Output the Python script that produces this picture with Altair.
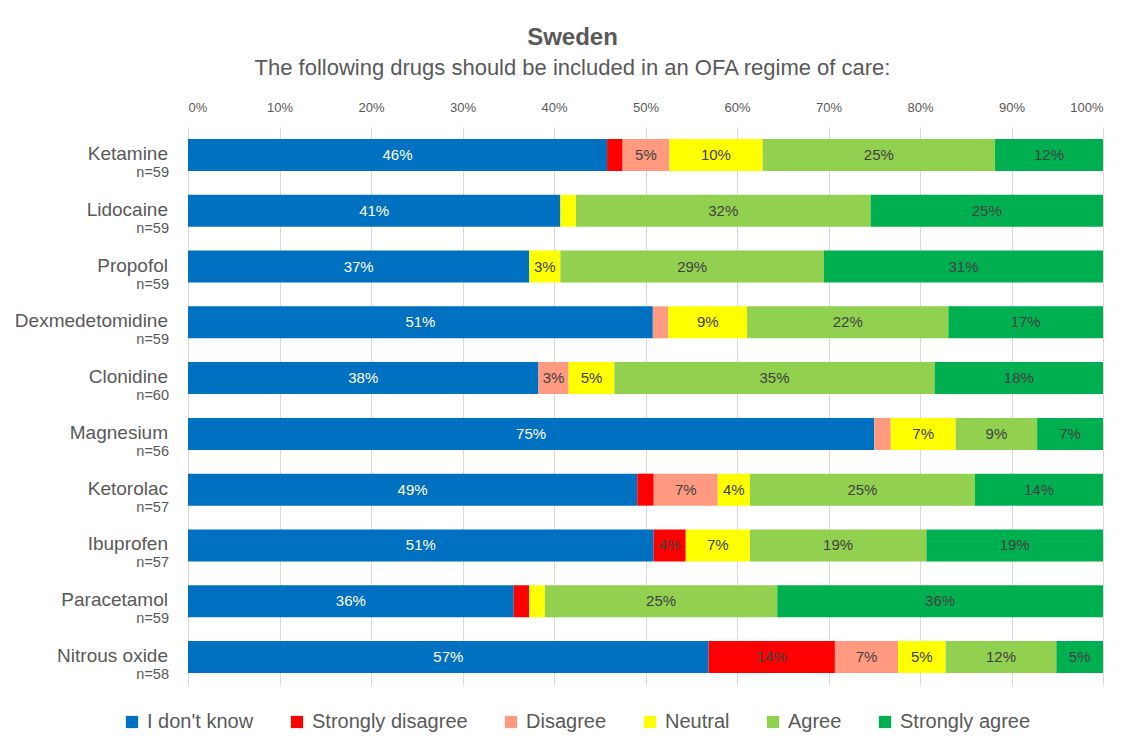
import math
import altair as alt
import pandas as pd

drugs = ["Ketamine", "Lidocaine", "Propofol", "Dexmedetomidine", "Clonidine",
         "Magnesium", "Ketorolac", "Ibuprofen", "Paracetamol", "Nitrous oxide"]
n_resp = [59, 59, 59, 59, 60, 56, 57, 57, 59, 58]
categories = ["I don't know", "Strongly disagree", "Disagree", "Neutral", "Agree", "Strongly agree"]
colors = ["#0070C0", "#FF0000", "#FF9980", "#FFFF00", "#92D050", "#00B050"]

dont_know = [45.8, 40.7, 37.3, 50.8, 38.3, 75.0, 49.1, 50.89, 35.6, 56.9]
strongly_disagree = [1.7, 0, 0, 0, 0, 0, 1.8, 3.51, 1.7, 13.8]
disagree = [5.1, 0, 0, 1.7, 3.3, 1.8, 7.0, 0, 0, 6.9]
neutral = [10.2, 1.7, 3.4, 8.6, 5.0, 7.1, 3.51, 7.0, 1.7, 5.2]
agree = [25.4, 32.2, 28.8, 22.0, 35.0, 8.9, 24.6, 19.3, 25.4, 12.1]
strongly_agree = [11.8, 25.4, 30.5, 16.9, 18.4, 7.2, 13.99, 19.3, 35.6, 5.1]

series = [dont_know, strongly_disagree, disagree, neutral, agree, strongly_agree]

rows = []
for i, d in enumerate(drugs):
    cum = 0.0
    for k, cat in enumerate(categories):
        p = series[k][i]
        rows.append({"drug": d, "cat": cat, "ord": k, "pct": p,
                     "x0": cum / 100, "x1": (cum + p) / 100, "mid": (cum + p / 2) / 100,
                     "label": f"{math.floor(p + 0.5)}%"})
        cum += p
df = pd.DataFrame(rows)
df = df[df["pct"] > 0]

lab_df = pd.DataFrame({"drug": drugs, "nlab": [f"n={n}" for n in n_resp]})

FONT = "Liberation Sans, Arial, sans-serif"
GREY = "#595959"

yenc = alt.Y("drug:N", sort=drugs, axis=None,
             scale=alt.Scale(paddingInner=0.4265, paddingOuter=0.215))

bars = alt.Chart(df).mark_bar().encode(
    x=alt.X("x0:Q", scale=alt.Scale(domain=[0, 1], nice=False, clamp=True),
            axis=alt.Axis(orient="top", format="%", values=[i / 10 for i in range(11)],
                          grid=True, gridColor="#D9D9D9", domain=False, ticks=False,
                          labelFontSize=13, labelColor=GREY, labelPadding=13, title=None,
                          labelFont=FONT)),
    x2="x1:Q",
    y=yenc,
    color=alt.Color("cat:N", scale=alt.Scale(domain=categories, range=colors),
                    legend=alt.Legend(orient="none", legendX=-66, legendY=585,
                                      direction="horizontal", title=None,
                                      symbolType="square", symbolSize=150,
                                      symbolStrokeWidth=0, labelFontSize=20,
                                      labelLimit=400,
                                      labelColor=GREY, labelFont=FONT,
                                      columnPadding=33, labelOffset=5)),
    order="ord:Q",
)

texts = alt.Chart(df).transform_filter("datum.pct >= 3").mark_text(
    fontSize=15, font=FONT, baseline="middle", align="center"
).encode(
    x="mid:Q",
    y=yenc,
    text="label:N",
    color=alt.condition("datum.cat == \"I don't know\"", alt.value("white"), alt.value("#404040")),
)

names = alt.Chart(lab_df).mark_text(
    fontSize=19, font=FONT, align="right", baseline="middle", dy=-1, color=GREY
).encode(x=alt.value(-20), y=yenc, text="drug:N")

nlabs = alt.Chart(lab_df).mark_text(
    fontSize=14.5, font=FONT, align="right", baseline="middle", dy=18, color=GREY
).encode(x=alt.value(-19), y=yenc, text="nlab:N")

chart = alt.layer(bars, texts, names, nlabs).properties(
    width=915, height=558,
    autosize=alt.AutoSizeParams(type="none"),
    padding={"left": 180, "top": 119, "right": 22, "bottom": 54},
    title=alt.TitleParams(
        text="Sweden",
        subtitle="The following drugs should be included in an OFA regime of care:",
        font=FONT, subtitleFont=FONT, fontSize=24, fontWeight="bold", color=GREY,
        subtitleFontSize=22, subtitleColor=GREY, anchor="middle", dx=-73,
        offset=22, subtitlePadding=8,
    ),
).configure_view(stroke=None)

chart.save("out.html", embed_options={"renderer": "svg", "actions": False})
